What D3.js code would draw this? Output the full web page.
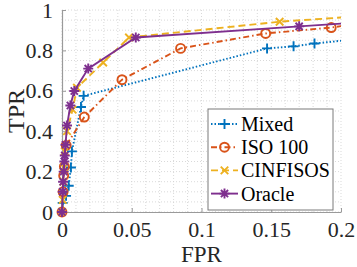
<!DOCTYPE html>
<html>
<head>
<meta charset="utf-8">
<script src="https://cdn.jsdelivr.net/npm/d3@7"></script>
<style>
  body { margin: 0; background: #fff; }
  svg { display: block; }
</style>
</head>
<body>
<div id="chart"></div>
<script>
// ROC curves
const seriesNames = ["Mixed", "ISO 100", "CINFISOS", "Oracle"];

const mixedFPR = [0, 0.0005, 0.0029, 0.0048, 0.0064, 0.0071, 0.0136, 0.0155, 0.147, 0.166, 0.181, 0.21];
const mixedTPR = [0, 0.045, 0.08, 0.13, 0.22, 0.30, 0.52, 0.575, 0.81, 0.82, 0.834, 0.855];

const isoFPR = [0, 0.0008, 0.0012, 0.0017, 0.003, 0.016, 0.043, 0.085, 0.146, 0.193, 0.21];
const isoTPR = [0, 0.10, 0.18, 0.225, 0.33, 0.47, 0.655, 0.81, 0.884, 0.913, 0.93];

const cinfFPR = [0, 0.0005, 0.001, 0.0015, 0.002, 0.0036, 0.0076, 0.0107, 0.0295, 0.048, 0.156, 0.22];
const cinfTPR = [0, 0.06, 0.15, 0.22, 0.30, 0.40, 0.507, 0.615, 0.74, 0.864, 0.942, 0.972];

const oracleFPR = [0, 0.0005, 0.0008, 0.0012, 0.0017, 0.002, 0.0025, 0.0036, 0.006, 0.0088, 0.0188, 0.0529, 0.170, 0.21];
const oracleTPR = [0, 0.10, 0.15, 0.20, 0.25, 0.28, 0.333, 0.428, 0.527, 0.599, 0.71, 0.864, 0.919, 0.937];

const xTicks = [0, 0.05, 0.1, 0.15, 0.2];
const yTicks = [0, 0.2, 0.4, 0.6, 0.8, 1];
const xTickLabels = ["0", "0.05", "0.1", "0.15", "0.2"];
const yTickLabels = ["0", "0.2", "0.4", "0.6", "0.8", "1"];

const config = {
    width: 357, height: 267,
    margin: { top: 10, right: 16, bottom: 55, left: 62 },
    font: '"Liberation Serif", "Times New Roman", serif',
    styles: [
        { color: "#0072BD", dash: "1.5,2", marker: "plus" },
        { color: "#D95319", dash: "6,3,1.5,3", marker: "circle" },
        { color: "#EDB120", dash: "7,4", marker: "cross" },
        { color: "#7E2F8E", dash: null, marker: "star" }
    ]
};

const series = [
    { name: seriesNames[0], pts: mixedFPR.map((x, i) => [x, mixedTPR[i]]) },
    { name: seriesNames[1], pts: isoFPR.map((x, i) => [x, isoTPR[i]]) },
    { name: seriesNames[2], pts: cinfFPR.map((x, i) => [x, cinfTPR[i]]) },
    { name: seriesNames[3], pts: oracleFPR.map((x, i) => [x, oracleTPR[i]]) }
];

const m = config.margin;
const w = config.width - m.left - m.right;
const h = config.height - m.top - m.bottom;

const svg = d3.select("#chart").append("svg")
    .attr("width", config.width)
    .attr("height", config.height);

const g = svg.append("g").attr("transform", `translate(${m.left},${m.top})`);

const x = d3.scaleLinear().domain([0, 0.2]).range([0, w]);
const y = d3.scaleLinear().domain([0, 1]).range([h, 0]);

svg.append("defs").append("clipPath").attr("id", "plot-clip")
    .append("rect").attr("x", -6).attr("y", -6).attr("width", w + 6).attr("height", h + 12);

// grid (major + minor, all dotted)
const gx = d3.range(0, 0.2001, 0.01);
const gy = d3.range(0, 1.0001, 0.05);
g.append("g").selectAll("line").data(gx).enter().append("line")
    .attr("x1", d => x(d)).attr("x2", d => x(d))
    .attr("y1", 0).attr("y2", h)
    .attr("stroke", "#cfcfcf").attr("stroke-width", 0.8).attr("stroke-dasharray", "1,2");
g.append("g").selectAll("line").data(gy).enter().append("line")
    .attr("y1", d => y(d)).attr("y2", d => y(d))
    .attr("x1", 0).attr("x2", w)
    .attr("stroke", "#cfcfcf").attr("stroke-width", 0.8).attr("stroke-dasharray", "1,2");

// axes
const xAxis = g.append("g").attr("transform", `translate(0,${h})`)
    .call(d3.axisBottom(x).tickValues(xTicks).tickFormat((d, i) => xTickLabels[i]).tickSizeInner(-4).tickSizeOuter(0).tickPadding(9));
const yAxis = g.append("g")
    .call(d3.axisLeft(y).tickValues(yTicks).tickFormat((d, i) => yTickLabels[i]).tickSizeInner(-4).tickSizeOuter(0).tickPadding(9));
[xAxis, yAxis].forEach(a => {
    a.select(".domain").attr("stroke", "#9a9a9a").attr("stroke-width", 1.2);
    a.selectAll(".tick line").attr("stroke", "#9a9a9a");
    a.selectAll("text").attr("font-family", config.font).attr("font-size", "22px").attr("fill", "#262626");
});
xAxis.selectAll("text").attr("dy", "0.71em");

// markers
function markerPath(type, r) {
    const p = d3.path();
    if (type === "plus") {
        p.moveTo(-r, 0); p.lineTo(r, 0); p.moveTo(0, -r); p.lineTo(0, r);
    } else if (type === "cross") {
        const k = r * 0.75;
        p.moveTo(-k, -k); p.lineTo(k, k); p.moveTo(-k, k); p.lineTo(k, -k);
    } else if (type === "circle") {
        p.moveTo(r * 0.9, 0); p.arc(0, 0, r * 0.9, 0, 2 * Math.PI);
    } else if (type === "star") {
        const k = r * 0.72;
        p.moveTo(-r, 0); p.lineTo(r, 0); p.moveTo(0, -r); p.lineTo(0, r);
        p.moveTo(-k, -k); p.lineTo(k, k); p.moveTo(-k, k); p.lineTo(k, -k);
    }
    return p.toString();
}

const line = d3.line().x(d => x(d[0])).y(d => y(d[1]));
const plot = g.append("g").attr("clip-path", "url(#plot-clip)");

series.forEach((s, i) => {
    const st = config.styles[i];
    plot.append("path")
        .datum(s.pts)
        .attr("d", line)
        .attr("fill", "none")
        .attr("stroke", st.color)
        .attr("stroke-width", 1.9)
        .attr("stroke-dasharray", st.dash);
    plot.selectAll(".mk" + i)
        .data(s.pts.filter(d => d[0] <= 0.2))
        .enter().append("path")
        .attr("transform", d => `translate(${x(d[0])},${y(d[1])})`)
        .attr("d", markerPath(st.marker, 5))
        .attr("fill", "none")
        .attr("stroke", st.color)
        .attr("stroke-width", 1.9);
});

// axis labels
svg.append("text")
    .attr("x", m.left + w / 2).attr("y", 262)
    .attr("text-anchor", "middle")
    .attr("font-family", config.font).attr("font-size", "23px").attr("fill", "#262626")
    .text("FPR");
svg.append("text")
    .attr("transform", `translate(24,${m.top + h / 2}) rotate(-90)`)
    .attr("text-anchor", "middle")
    .attr("font-family", config.font).attr("font-size", "24px").attr("fill", "#262626")
    .text("TPR");

// legend
const legend = svg.append("g").attr("transform", "translate(208,109)");
legend.append("rect")
    .attr("width", 125).attr("height", 101)
    .attr("fill", "#fff").attr("stroke", "#7a7a7a").attr("stroke-width", 1);
series.forEach((s, i) => {
    const st = config.styles[i];
    const ly = 15 + i * 23.2;
    const row = legend.append("g").attr("transform", `translate(0,${ly})`);
    row.append("line")
        .attr("x1", 3).attr("x2", 30).attr("y1", 0).attr("y2", 0)
        .attr("stroke", st.color).attr("stroke-width", 1.9)
        .attr("stroke-dasharray", st.dash);
    row.append("path")
        .attr("transform", "translate(16.5,0)")
        .attr("d", markerPath(st.marker, 5))
        .attr("fill", "none").attr("stroke", st.color).attr("stroke-width", 1.9);
    row.append("text")
        .attr("x", 33).attr("y", 0).attr("dy", "0.35em")
        .attr("font-family", config.font).attr("font-size", "20px").attr("fill", "#000")
        .text(s.name);
});
</script>
</body>
</html>
